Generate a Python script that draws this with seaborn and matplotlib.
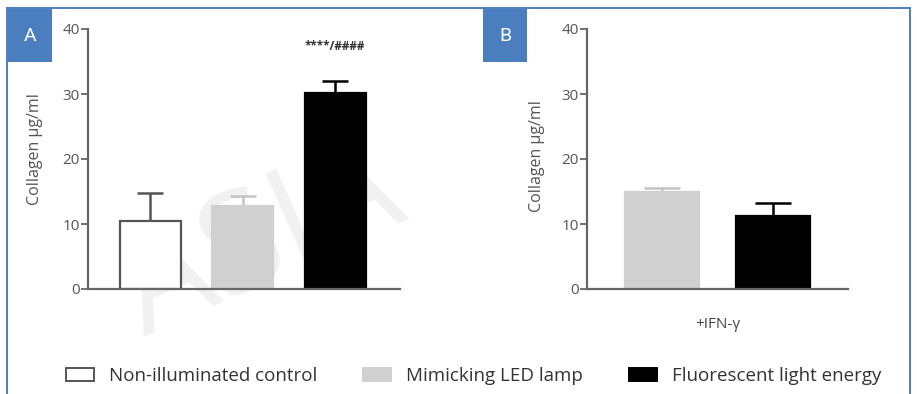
import matplotlib
matplotlib.use("Agg")
import matplotlib.pyplot as plt
from matplotlib.patches import Rectangle, Patch
import seaborn as sns
import pandas as pd

# Collagen secretion, mean and SD (µg/ml)
groups_a = ["Non-illuminated control", "Mimicking LED lamp", "Fluorescent light energy"]
mean_a = [10.4, 12.8, 30.2]
sd_a = [4.4, 1.5, 1.8]

groups_b = ["Mimicking LED lamp", "Fluorescent light energy"]
mean_b = [14.9, 11.3]
sd_b = [0.6, 1.9]

fill = {"Non-illuminated control": "white",
        "Mimicking LED lamp": "#d0d0d0",
        "Fluorescent light energy": "black"}
edge = {"Non-illuminated control": "#555555",
        "Mimicking LED lamp": "#d0d0d0",
        "Fluorescent light energy": "black"}
err_col = {"Non-illuminated control": "#555555",
           "Mimicking LED lamp": "#c4c4c4",
           "Fluorescent light energy": "black"}

y_ticks = [0, 10, 20, 30, 40]
y_label = "Collagen µg/ml"
sig_label = "****/####"
b_xlabel = "+IFN-γ"

sns.set_theme(style="white")
plt.rcParams["font.family"] = ["Open Sans", "DejaVu Sans"]

W, H = 917, 394
fig = plt.figure(figsize=(W / 100, H / 100), dpi=100)
fig.patch.set_facecolor("white")


def px_axes(left, right, top, bottom):
    return fig.add_axes([left / W, 1 - bottom / H, (right - left) / W, (bottom - top) / H])


def draw_panel(ax, groups, means, sds, width, xlim, capsize):
    df = pd.DataFrame({"group": groups, "value": means})
    sns.barplot(data=df, x="group", y="value", hue="group", order=groups,
                palette=[fill[g] for g in groups], width=width, legend=False,
                ax=ax, errorbar=None, zorder=2)
    for patch, g in zip(ax.patches, groups):
        patch.set_edgecolor(edge[g])
        patch.set_linewidth(1.6)
    for i, (g, m, s) in enumerate(zip(groups, means, sds)):
        ax.errorbar(i, m, yerr=[[0], [s]], fmt="none", ecolor=err_col[g],
                    elinewidth=1.8, capsize=capsize, capthick=1.8, zorder=1)
    ax.set_xlim(*xlim)
    ax.set_ylim(0, 40)
    ax.set_yticks(y_ticks)
    ax.set_yticklabels([str(t) for t in y_ticks])
    ax.set_xticks([])
    ax.set_xlabel("")
    ax.set_facecolor("none")
    for side in ("top", "right"):
        ax.spines[side].set_visible(False)
    for side in ("left", "bottom"):
        ax.spines[side].set_color("#666666")
        ax.spines[side].set_linewidth(1.6)
    ax.tick_params(axis="y", left=True, length=5, width=1.3, color="#666666",
                   labelsize=11, labelcolor="#555555", pad=1)
    ax.set_ylabel(y_label, fontsize=11.5, color="#555555")


# Panel A
ax_a = px_axes(88, 400, 29, 289)
draw_panel(ax_a, groups_a, mean_a, sd_a, 0.66, (-0.676, 2.70), 9.5)
ax_a.yaxis.set_label_coords(-0.145, 0.54)
ax_a.text(2, 37.3, sig_label, ha="center", va="center", fontsize=8.5,
          color="#333333", fontweight="bold")

# Panel B
ax_b = px_axes(587, 848, 29, 289)
draw_panel(ax_b, groups_b, mean_b, sd_b, 0.67, (-0.679, 1.683), 13)
ax_b.yaxis.set_label_coords(-0.16, 0.51)
ax_b.set_xlabel(b_xlabel, fontsize=11, color="#444444", labelpad=20)

# Background watermark
fig.text(262 / W, 1 - 245 / H, "ASIA", fontsize=100, color="#f1f1f1",
         rotation=24, ha="center", va="center", zorder=-5, fontfamily="Open Sans")

# Blue frame and panel tags
blue = "#4a7ebf"
fig.add_artist(Rectangle((7 / W, -0.05), (910 - 7) / W, 1 - 8 / H + 0.05,
                         transform=fig.transFigure, fill=False, edgecolor=blue,
                         linewidth=1.4, zorder=10))
for x0, tag in ((8, "A"), (483, "B")):
    fig.add_artist(Rectangle((x0 / W, 1 - 62 / H), 44 / W, 53 / H,
                             transform=fig.transFigure, facecolor=blue,
                             edgecolor="none", zorder=11))
    fig.text((x0 + 22) / W, 1 - 36 / H, tag, color="white", fontsize=14,
             ha="center", va="center", zorder=12, fontfamily="Roboto")

# Shared legend
handles = [Patch(facecolor=fill[g], edgecolor=edge[g], linewidth=1.4) for g in groups_a]
fig.legend(handles, groups_a, loc="center left", bbox_to_anchor=(49 / W, 1 - 376 / H),
           ncol=3, frameon=False, fontsize=13.5, handlelength=1.5, handleheight=0.75,
           handletextpad=0.8, columnspacing=2.45, labelcolor="#333333")

fig.savefig("out.png", dpi=100)
